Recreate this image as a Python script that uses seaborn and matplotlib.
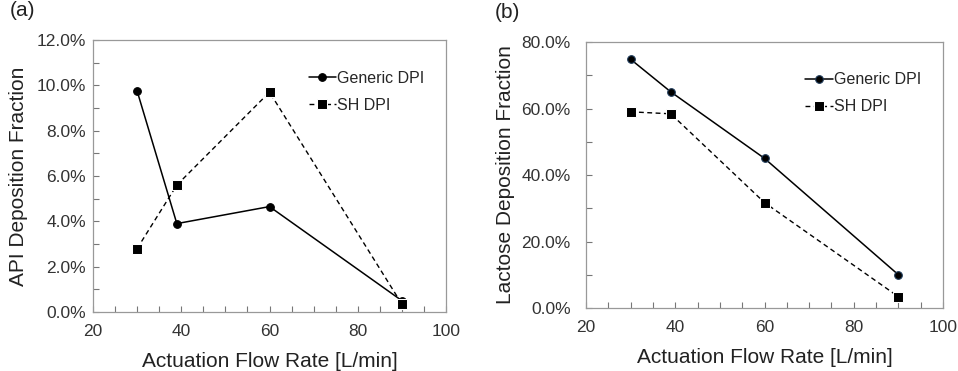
import numpy as np
import pandas as pd
import matplotlib
matplotlib.use("Agg")
import matplotlib.pyplot as plt
import seaborn as sns
from matplotlib.ticker import MultipleLocator, PercentFormatter

sns.set_style("white")
plt.rcParams['font.family'] = ['Liberation Sans', 'DejaVu Sans']

flow = [30, 39, 60, 90]
api_generic = [9.75, 3.9, 4.65, 0.5]
api_sh = [2.8, 5.6, 9.7, 0.35]
lac_generic = [74.8, 65.0, 45.0, 10.0]
lac_sh = [59.0, 58.4, 31.7, 3.4]


def draw_panel(ax, generic, sh, ymax, ystep, ylabel, tag, generic_edge, ypad, ylabpad, tagx):
    df = pd.DataFrame({'flow': flow + flow,
                       'value': generic + sh,
                       'device': ['Generic DPI'] * 4 + ['SH DPI'] * 4})
    sns.lineplot(data=df[df.device == 'Generic DPI'], x='flow', y='value', ax=ax,
                 color='black', lw=1.1, marker='o', markersize=5.5,
                 markeredgecolor=generic_edge, markeredgewidth=0.8,
                 label='Generic DPI')
    sns.lineplot(data=df[df.device == 'SH DPI'], x='flow', y='value', ax=ax,
                 color='black', lw=1.0, linestyle=(0, (3.5, 2.5)), marker='s',
                 markersize=6.5, label='SH DPI')
    ax.set_xlim(20, 100)
    ax.set_ylim(0, ymax)
    ax.xaxis.set_major_locator(MultipleLocator(20))
    ax.xaxis.set_minor_locator(MultipleLocator(5))
    ax.yaxis.set_major_locator(MultipleLocator(ystep))
    ax.yaxis.set_minor_locator(MultipleLocator(ystep / 2))
    ax.yaxis.set_major_formatter(PercentFormatter(decimals=1))
    ax.tick_params(which='both', direction='in', length=4, width=0.8,
                   color='#777777', labelsize=12.5, labelcolor='#333333')
    ax.tick_params(axis='x', pad=9)
    ax.tick_params(axis='y', pad=ypad)
    ax.tick_params(which='both', bottom=True, left=True)
    for s in ax.spines.values():
        s.set_color('#999999')
        s.set_linewidth(0.9)
    ax.set_xlabel('Actuation Flow Rate [L/min]', fontsize=15, color='#222222', labelpad=9)
    ax.set_ylabel(ylabel, fontsize=15, color='#222222', labelpad=ylabpad)
    ax.legend(loc='upper right', bbox_to_anchor=(0.98, 0.94), frameon=False,
              fontsize=11.5, handlelength=1.7, handletextpad=0.1, labelspacing=0.75)
    ax.text(tagx, 1.145, tag, transform=ax.transAxes, fontsize=15, color='#222222',
            va='top', ha='left')


fig, (ax1, ax2) = plt.subplots(1, 2, figsize=(9.58, 3.71), dpi=100)
ax1.set_position([93 / 958, 1 - 312 / 371, (446 - 93) / 958, (312 - 40) / 371])
ax2.set_position([586 / 958, 1 - 308 / 371, (943 - 586) / 958, (308 - 42) / 371])
draw_panel(ax1, api_generic, api_sh, 12, 2, 'API Deposition Fraction', '(a)', 'black', 5, 6, -0.235)
draw_panel(ax2, lac_generic, lac_sh, 80, 20, 'Lactose Deposition Fraction', '(b)', '#1f3b5a', 11, 5, -0.255)

fig.savefig('out.png', dpi=100)
